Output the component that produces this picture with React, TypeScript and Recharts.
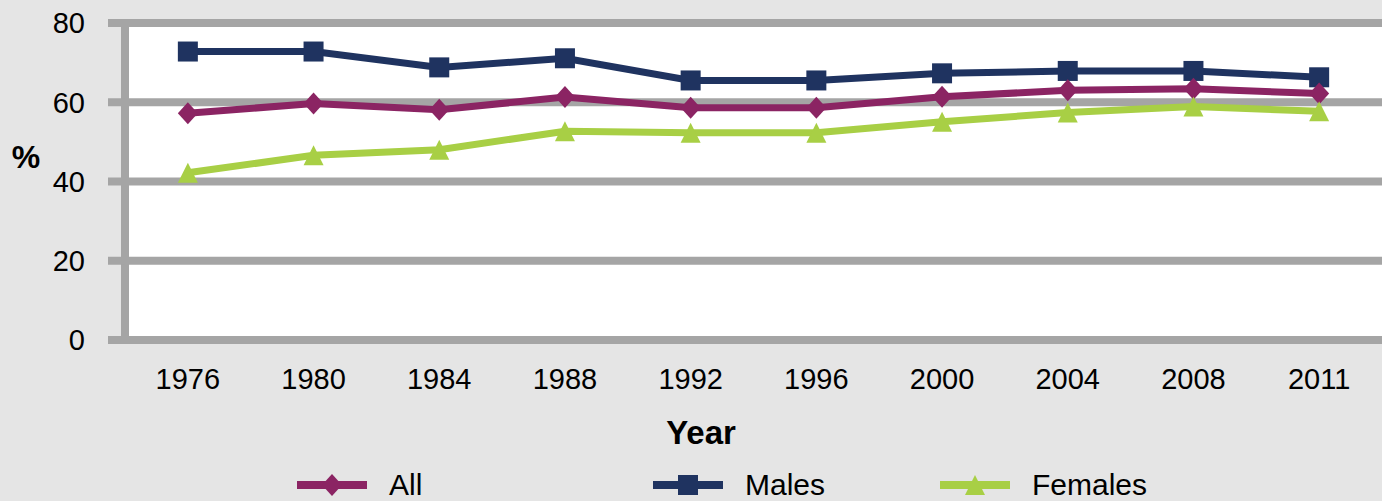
import React from 'react';
import { LineChart, Line, XAxis, YAxis, CartesianGrid, Legend } from 'recharts';

const years = ['1976', '1980', '1984', '1988', '1992', '1996', '2000', '2004', '2008', '2011'];
const allValues = [57.2, 59.7, 58.1, 61.3, 58.6, 58.6, 61.4, 63.0, 63.4, 62.2];
const malesValues = [72.8, 72.8, 68.8, 71.1, 65.5, 65.5, 67.3, 67.9, 67.9, 66.3];
const femalesValues = [42.2, 46.6, 48.0, 52.7, 52.3, 52.3, 55.1, 57.4, 58.9, 57.7];
const yTicks = [0, 20, 40, 60, 80];

const data = years.map((year, i) => ({
  idx: i,
  year,
  all: allValues[i],
  males: malesValues[i],
  females: femalesValues[i],
}));

const yearTicks = years.map((_, i) => i);
const boundaryTicks = [...years.map((_, i) => i - 0.5), years.length - 0.5];

const COLORS = {
  all: '#8b2463',
  males: '#1f3360',
  females: '#a8cf45',
  grid: '#a5a5a5',
  bg: '#e5e5e5',
};

const FONT = '"Liberation Sans", Arial, Helvetica, sans-serif';

const Diamond = ({ cx, cy, color }: any) => (
  <polygon points={`${cx},${cy - 11} ${cx + 10},${cy} ${cx},${cy + 11} ${cx - 10},${cy}`} fill={color} />
);
const Square = ({ cx, cy, color }: any) => (
  <rect x={cx - 10} y={cy - 10} width={20} height={20} fill={color} />
);
const Triangle = ({ cx, cy, color }: any) => (
  <polygon points={`${cx},${cy - 10} ${cx + 10},${cy + 10} ${cx - 10},${cy + 10}`} fill={color} />
);

const legendItems = [
  { name: 'All', color: COLORS.all, Shape: Diamond, left: 297 },
  { name: 'Males', color: COLORS.males, Shape: Square, left: 653 },
  { name: 'Females', color: COLORS.females, Shape: Triangle, left: 940 },
];

const renderLegend = () => (
  <div style={{ position: 'relative', width: 1382, height: 40 }}>
    {legendItems.map((item) => (
      <div key={item.name} style={{ position: 'absolute', left: item.left, top: 0, height: 40 }}>
        <svg width={70} height={40} style={{ position: 'absolute', left: 0, top: 0 }}>
          <line x1={0} y1={23} x2={70} y2={23} stroke={item.color} strokeWidth={8} />
          <item.Shape cx={35} cy={23} color={item.color} />
        </svg>
        <span
          style={{
            position: 'absolute',
            left: 92,
            top: 6,
            fontSize: 30,
            fontFamily: FONT,
            color: '#000',
            whiteSpace: 'nowrap',
            lineHeight: '34px',
          }}
        >
          {item.name}
        </span>
      </div>
    ))}
  </div>
);

export default function App() {
  return (
    <div style={{ position: 'absolute', left: 0, top: 0, width: 1382, height: 501, background: COLORS.bg, overflow: 'hidden' }}>
      <LineChart
        width={1382}
        height={501}
        data={data}
        margin={{ top: 23, right: 0, left: 65, bottom: 121 }}
        style={{ fontFamily: FONT }}
      >
        <CartesianGrid vertical={false} fill="#ffffff" stroke={COLORS.grid} strokeWidth={8} />
        <XAxis
          xAxisId="b"
          type="number"
          domain={[-0.5, years.length - 0.5]}
          ticks={boundaryTicks}
          tick={false}
          axisLine={false}
          tickLine={{ stroke: COLORS.grid, strokeWidth: 8 }}
          tickSize={12}
          height={0}
          allowDataOverflow
        />
        <XAxis
          dataKey="idx"
          type="number"
          domain={[-0.5, years.length - 0.5]}
          ticks={yearTicks}
          interval={0}
          tickFormatter={(i: number) => years[i]}
          axisLine={{ stroke: COLORS.grid, strokeWidth: 8 }}
          tickLine={false}
          tickSize={0}
          tickMargin={28}
          tick={{ fill: '#000', fontSize: 29 }}
          height={40}
          allowDataOverflow
          label={{
            content: () => (
              <text x={701} y={444} textAnchor="middle" fontSize={33} fontWeight="bold" fill="#000" fontFamily={FONT}>
                Year
              </text>
            ),
          }}
        />
        <YAxis
          domain={[0, 80]}
          ticks={yTicks}
          width={60}
          axisLine={{ stroke: COLORS.grid, strokeWidth: 8 }}
          tickLine={{ stroke: COLORS.grid, strokeWidth: 8 }}
          tickSize={17}
          tickMargin={23}
          tick={{ fill: '#000', fontSize: 29 }}
          label={{
            content: () => (
              <text x={26} y={168} textAnchor="middle" fontSize={32} fontWeight="bold" fill="#000" fontFamily={FONT}>
                %
              </text>
            ),
          }}
        />
        <Line
          dataKey="males"
          stroke={COLORS.males}
          strokeWidth={7}
          isAnimationActive={false}
          dot={(p: any) => <Square key={`m${p.index}`} cx={p.cx} cy={p.cy} color={COLORS.males} />}
        />
        <Line
          dataKey="all"
          stroke={COLORS.all}
          strokeWidth={7}
          isAnimationActive={false}
          dot={(p: any) => <Diamond key={`a${p.index}`} cx={p.cx} cy={p.cy} color={COLORS.all} />}
        />
        <Line
          dataKey="females"
          stroke={COLORS.females}
          strokeWidth={7}
          isAnimationActive={false}
          dot={(p: any) => <Triangle key={`f${p.index}`} cx={p.cx} cy={p.cy} color={COLORS.females} />}
        />
        <Legend
          layout="horizontal"
          verticalAlign="middle"
          align="center"
          content={renderLegend}
          wrapperStyle={{ position: 'absolute', left: 0, top: 462, width: 1382, height: 40 }}
        />
      </LineChart>
    </div>
  );
}
